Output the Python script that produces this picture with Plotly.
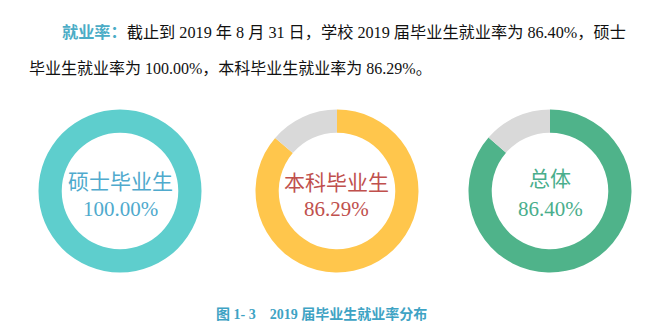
import plotly.graph_objects as go

W, H = 645, 329

categories = ["硕士毕业生", "本科毕业生", "总体"]
rates = [100.00, 86.29, 86.40]
pct_labels = ["100.00%", "86.29%", "86.40%"]
ring_colors = ["#5ECECD", "#FFC64C", "#4FB38A"]
text_colors = ["#4FAACD", "#C0504D", "#4AAE8C"]
rest_color = "#D9D9D9"

header_line1 = "截止到 2019 年 8 月 31 日，学校 2019 届毕业生就业率为 86.40%，硕士"
header_lead = "就业率："
header_line2 = "毕业生就业率为 100.00%，本科毕业生就业率为 86.29%。"
caption = "图 1- 3    2019 届毕业生就业率分布"

centers_x = [120, 337, 550]
center_y = 191
radius = 81.5

FONT = "Liberation Serif, 'Noto Sans CJK SC', serif"

fig = go.Figure()
for i, (cat, r) in enumerate(zip(categories, rates)):
    cx = centers_x[i]
    fig.add_trace(go.Pie(
        values=[r, round(100 - r, 2)],
        labels=[cat, "其他"],
        marker=dict(colors=[ring_colors[i], rest_color], line=dict(width=0)),
        hole=0.715,
        sort=False,
        direction="clockwise",
        rotation=0,
        textinfo="none",
        hoverinfo="label+percent",
        showlegend=False,
        domain=dict(
            x=[(cx - radius) / W, (cx + radius) / W],
            y=[(H - center_y - radius) / H, (H - center_y + radius) / H],
        ),
    ))

annotations = []
label_y = [182, 183, 179]
for i, cat in enumerate(categories):
    cx = centers_x[i]
    annotations.append(dict(
        x=cx / W, y=1 - label_y[i] / H, xref="paper", yref="paper",
        text=cat, showarrow=False, xanchor="center", yanchor="middle",
        font=dict(family=FONT, size=21, color=text_colors[i]),
    ))
    annotations.append(dict(
        x=cx / W, y=1 - 209 / H, xref="paper", yref="paper",
        text=pct_labels[i], showarrow=False, xanchor="center", yanchor="middle",
        font=dict(family=FONT, size=21, color=text_colors[i]),
    ))

annotations.append(dict(
    x=60 / W, y=1 - 32 / H, xref="paper", yref="paper",
    text='<b><span style="color:#4BACC6">' + header_lead + '</span></b>' + header_line1,
    showarrow=False, xanchor="left", yanchor="middle",
    font=dict(family=FONT, size=16.2, color="#111111"),
))
annotations.append(dict(
    x=27 / W, y=1 - 68 / H, xref="paper", yref="paper",
    text=header_line2,
    showarrow=False, xanchor="left", yanchor="middle",
    font=dict(family=FONT, size=16, color="#111111"),
))
annotations.append(dict(
    x=321 / W, y=1 - 314 / H, xref="paper", yref="paper",
    text="<b>" + caption + "</b>",
    showarrow=False, xanchor="center", yanchor="middle",
    font=dict(family=FONT, size=14, color="#3EA3C4"),
))

fig.update_layout(
    width=W, height=H,
    margin=dict(l=0, r=0, t=0, b=0),
    paper_bgcolor="white", plot_bgcolor="white",
    annotations=annotations,
)

fig.write_html("out.html")
